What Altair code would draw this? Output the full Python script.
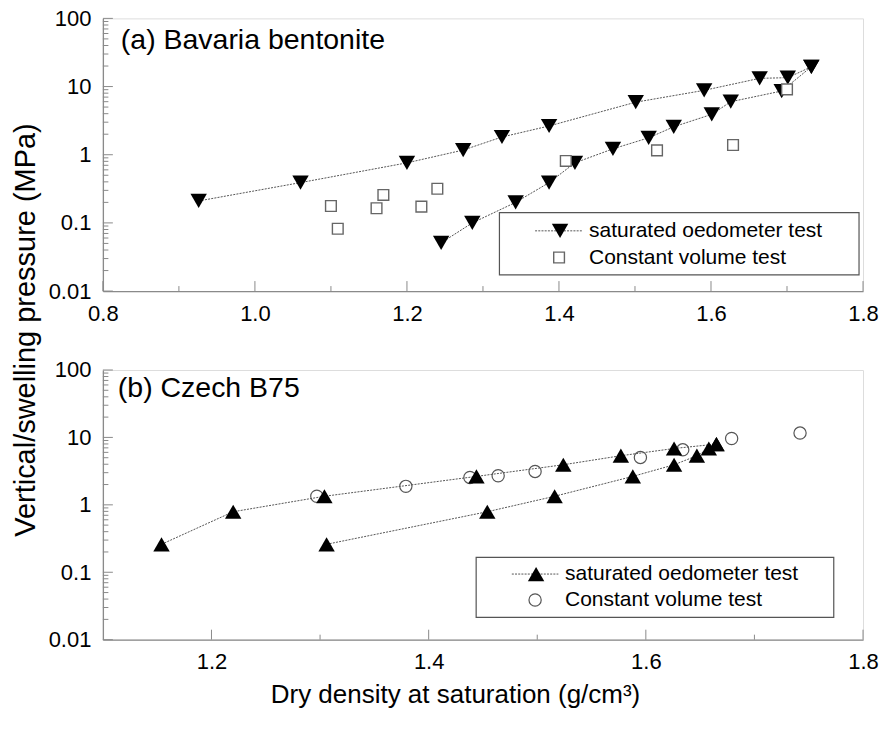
import altair as alt
import pandas as pd

FONT = "Liberation Sans"

# ---------------- (a) Bavaria bentonite ----------------
# saturated oedometer test, two loading paths (dry density g/cm3, pressure MPa)
bav_upper_x = [0.926, 1.060, 1.200, 1.274, 1.325, 1.387, 1.501, 1.591, 1.664, 1.701, 1.732]
bav_upper_y = [0.21, 0.39, 0.76, 1.17, 1.82, 2.64, 5.9, 8.8, 13.2, 13.5, 19.5]
bav_lower_x = [1.245, 1.286, 1.343, 1.387, 1.421, 1.471, 1.518, 1.551, 1.601, 1.626, 1.693, 1.732]
bav_lower_y = [0.051, 0.10, 0.20, 0.39, 0.76, 1.22, 1.77, 2.57, 3.91, 5.99, 8.6, 19.5]
# constant volume test
bav_cv_x = [1.100, 1.109, 1.160, 1.169, 1.219, 1.240, 1.409, 1.529, 1.629, 1.700]
bav_cv_y = [0.177, 0.082, 0.164, 0.257, 0.173, 0.317, 0.81, 1.16, 1.39, 9.1]

# ---------------- (b) Czech B75 ----------------
czech_upper_x = [1.154, 1.220, 1.304, 1.444, 1.524, 1.577, 1.626, 1.665]
czech_upper_y = [0.26, 0.79, 1.34, 2.64, 3.93, 5.35, 6.85, 7.96]
czech_lower_x = [1.306, 1.454, 1.516, 1.588, 1.626, 1.647, 1.658, 1.665]
czech_lower_y = [0.26, 0.79, 1.34, 2.64, 3.93, 5.35, 6.85, 7.96]
czech_cv_x = [1.297, 1.379, 1.438, 1.464, 1.498, 1.595, 1.634, 1.679, 1.742]
czech_cv_y = [1.34, 1.88, 2.55, 2.70, 3.13, 5.04, 6.55, 9.63, 11.6]

# ---------------- axes ----------------
y_domain = [0.01, 100]
y_labels = [0.01, 0.1, 1, 10, 100]
y_minor = [m * d for d in [0.01, 0.1, 1, 10] for m in range(2, 10)]

a_domain = [0.8, 1.8]
a_labels = [0.8, 1.0, 1.2, 1.4, 1.6, 1.8]
a_minor = [0.9, 1.1, 1.3, 1.5, 1.7]

b_domain = [1.1, 1.8]
b_labels = [1.2, 1.4, 1.6, 1.8]
b_minor = [1.3, 1.5, 1.7]

X_TITLE = "Dry density at saturation (g/cm³)"
Y_TITLE = "Vertical/swelling pressure (MPa)"
LEGEND_LINE = "saturated oedometer test"
LEGEND_CV = "Constant volume test"

AXIS_GREY = "#8a8a8a"
LINE_GREY = "#555555"
W = 761


def branch_frame(pairs):
    rows = []
    for name, xs, ys in pairs:
        for x, y in zip(xs, ys):
            rows.append({"x": x, "y": y, "branch": name})
    return pd.DataFrame(rows)


def xy_frame(xs, ys):
    return pd.DataFrame({"x": xs, "y": ys})


one = pd.DataFrame({"k": [0]})


def panel(x_domain, x_labels, x_minor, height, sat, cv, shape, cv_layer,
          label, label_xy, legend):
    X = alt.X("x:Q",
              scale=alt.Scale(domain=x_domain, nice=False, zero=False),
              axis=alt.Axis(values=x_labels, format=".1f", ticks=False, tickSize=0,
                            grid=False, domainColor=AXIS_GREY, domainWidth=1.3,
                            labelFontSize=22, labelPadding=12, labelColor="#000",
                            labelFont=FONT, title=None, labelFlush=False))
    Y = alt.Y("y:Q",
              scale=alt.Scale(type="log", domain=y_domain, nice=False),
              axis=alt.Axis(values=y_labels, format="~g", ticks=False, tickSize=0,
                            grid=False, domainColor=AXIS_GREY, domainWidth=1.3,
                            labelFontSize=22, labelPadding=12, labelColor="#000",
                            labelFont=FONT, title=None, labelFlush=False))

    layers = []
    # inward tick marks on the y axis
    layers.append(alt.Chart(pd.DataFrame({"y": y_labels})).mark_rule(
        color=AXIS_GREY, strokeWidth=1).encode(y=Y, x=alt.value(0), x2=alt.value(10)))
    layers.append(alt.Chart(pd.DataFrame({"y": y_minor})).mark_rule(
        color=AXIS_GREY, strokeWidth=1).encode(y=Y, x=alt.value(0), x2=alt.value(5.5)))
    # inward tick marks on the x axis
    layers.append(alt.Chart(pd.DataFrame({"x": x_labels})).mark_rule(
        color=AXIS_GREY, strokeWidth=1).encode(x=X, y=alt.value(height), y2=alt.value(height - 10)))
    layers.append(alt.Chart(pd.DataFrame({"x": x_minor})).mark_rule(
        color=AXIS_GREY, strokeWidth=1).encode(x=X, y=alt.value(height), y2=alt.value(height - 5)))

    base_sat = alt.Chart(sat)
    lines = base_sat.mark_line(color=LINE_GREY, strokeWidth=1, strokeDash=[2, 1.2]).encode(
        x=X, y=Y, detail="branch:N", order="x:Q")
    tri = base_sat.mark_point(shape=shape, filled=True, color="#000", size=270, opacity=1).encode(
        x=X, y=Y)
    cv_pts = cv_layer(alt.Chart(cv)).encode(x=X, y=Y)

    layers.append(lines)
    if shape == "triangle-up":
        layers += [cv_pts, tri]
    else:
        layers += [tri, cv_pts]

    # panel caption
    layers.append(alt.Chart(one).mark_text(
        text=label, align="left", baseline="middle", fontSize=28.5, font=FONT, color="#000"
    ).encode(x=alt.value(label_xy[0]), y=alt.value(label_xy[1])))

    # legend box
    bx0, bx1, by0, by1, lx0, lx1, sx, tx, ty1, ty2, cv_mark = legend
    layers.append(alt.Chart(one).mark_rect(fill="white", stroke="#555", strokeWidth=1.2).encode(
        x=alt.value(bx0), x2=alt.value(bx1), y=alt.value(by0), y2=alt.value(by1)))
    layers.append(alt.Chart(one).mark_rule(color=LINE_GREY, strokeWidth=1, strokeDash=[2, 1.2]).encode(
        x=alt.value(lx0), x2=alt.value(lx1), y=alt.value(ty1)))
    layers.append(alt.Chart(one).mark_point(shape=shape, filled=True, color="#000", size=270, opacity=1).encode(
        x=alt.value(sx), y=alt.value(ty1)))
    layers.append(cv_mark(alt.Chart(one)).encode(x=alt.value(sx - 1), y=alt.value(ty2)))
    for txt, ty in [(LEGEND_LINE, ty1), (LEGEND_CV, ty2)]:
        layers.append(alt.Chart(one).mark_text(
            text=txt, align="left", baseline="middle", fontSize=21, font=FONT, color="#000"
        ).encode(x=alt.value(tx), y=alt.value(ty)))

    return alt.layer(*layers).properties(width=W, height=height)


def squares(c):
    return c.mark_point(shape="square", filled=False, fill="white", fillOpacity=1,
                        stroke="#666", strokeWidth=1.4, size=115, opacity=1)


def circles(c):
    return c.mark_point(shape="circle", filled=False, stroke="#555", strokeWidth=1.2,
                        size=150, opacity=1)


sat_a = branch_frame([("upper", bav_upper_x, bav_upper_y), ("lower", bav_lower_x, bav_lower_y)])
sat_b = branch_frame([("upper", czech_upper_x, czech_upper_y), ("lower", czech_lower_x, czech_lower_y)])

top = panel(a_domain, a_labels, a_minor, 273, sat_a, xy_frame(bav_cv_x, bav_cv_y),
            "triangle-down", squares, "(a) Bavaria bentonite", (18, 22),
            (397, 757, 194.5, 256.7, 432.7, 480.7, 457.7, 486.7, 212.7, 239.4, squares))

bottom = panel(b_domain, b_labels, b_minor, 270, sat_b, xy_frame(czech_cv_x, czech_cv_y),
               "triangle-up", circles, "(b) Czech B75", (15, 18),
               (373.7, 731.7, 187.7, 247.7, 409.4, 456, 433.7, 462.7, 204.3, 230.3, circles))

titles = [
    alt.Chart(one).mark_text(text=Y_TITLE, angle=270, align="center", baseline="middle",
                             fontSize=29, font=FONT, color="#000").encode(
        x=alt.value(-77), y=alt.value(-40)),
    alt.Chart(one).mark_text(text=X_TITLE, align="center", baseline="alphabetic",
                             fontSize=26, font=FONT, color="#000").encode(
        x=alt.value(353), y=alt.value(333)),
]
bottom = alt.layer(bottom, *titles)

chart = alt.vconcat(top, bottom, spacing=79, bounds="flush").properties(
    padding={"left": 11, "top": 6, "right": 5, "bottom": 5}
).configure_view(stroke=None).configure(background="white")

chart.save("out.html", embed_options={"renderer": "svg", "actions": False})
